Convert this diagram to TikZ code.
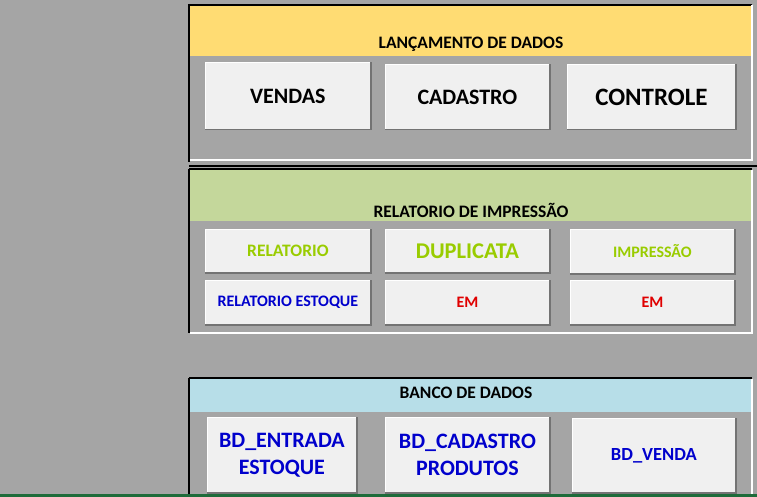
\documentclass[tikz,border=0pt]{standalone}
\usepackage{fontspec}
\setmainfont{Carlito}
\definecolor{bg}{HTML}{A5A5A5}
\definecolor{yel}{HTML}{FFDC73}
\definecolor{grn}{HTML}{C4D79B}
\definecolor{blu}{HTML}{B7DEE8}
\definecolor{btn}{HTML}{F0F0F0}
\definecolor{lime}{HTML}{99CC00}
\definecolor{dblue}{HTML}{0000CC}
\definecolor{dred}{HTML}{E00000}
\definecolor{edge}{HTML}{1E6B3A}
\tikzset{x=1pt,y=-1pt,
 btnbox/.style={fill=btn,draw=white,line width=0.8pt,inner sep=0pt,align=center},
 hdr/.style={font=\bfseries\fontsize{17.5}{20}\selectfont},
 sh/.style={draw=black!55,line width=1.4pt}}
\newcommand{\btn}[8]{% name x1 y1 x2 y2 color size text
 \node[btnbox,text=#6,font=\bfseries\fontsize{#7}{27}\selectfont,minimum width={#4-#2},minimum height={#5-#3},anchor=north west] (#1) at (#2,#3) {#8};
 \draw[sh] (#1.south west)--(#1.south east)--(#1.north east);}
\begin{document}
\begin{tikzpicture}
\fill[bg] (0,0) rectangle (757,497);
\useasboundingbox (0,0) rectangle (757,497);
% panel 1
\fill[yel] (190,5) rectangle (752,56);
\draw[black,line width=1.5pt] (189,5)--(752,5);
\draw[black,line width=1.5pt] (189,4)--(189,162);
\draw[white,line width=1.2pt] (752,5)--(752,160)--(190,160);
\draw[black,line width=1.5pt] (189,166)--(757,166);
\node[hdr] (h1) at (471,44) {LANÇAMENTO DE DADOS};
\btn{b1}{205}{62}{370}{129}{black}{22}{VENDAS}
\btn{b2}{385}{64}{549}{129}{black}{22}{CADASTRO}
\btn{b3}{567}{64}{735}{129}{black}{25}{CONTROLE}
% panel 2
\fill[grn] (190,170) rectangle (752,221);
\draw[black,line width=1.5pt] (189,169)--(752,169);
\draw[black,line width=1.5pt] (189,169)--(189,333);
\draw[white,line width=1.2pt] (752,170)--(752,333)--(190,333);
\node[hdr] (h2) at (471,210) {RELATORIO DE IMPRESSÃO};
\btn{c1}{205}{229}{370}{272}{lime}{17.5}{RELATORIO}
\btn{c2}{385}{229}{549}{272}{lime}{22.5}{DUPLICATA}
\btn{c3}{570}{229}{734}{273}{lime}{16}{IMPRESSÃO}
\btn{d1}{205}{280}{370}{324}{dblue}{16}{RELATORIO ESTOQUE}
\btn{d2}{385}{280}{549}{324}{dred}{16}{EM}
\btn{d3}{570}{280}{734}{324}{dred}{16}{EM}
% panel 3
\fill[blu] (190,379) rectangle (752,412);
\draw[black,line width=1.5pt] (189,378)--(752,378);
\draw[black,line width=1.5pt] (189,378)--(189,497);
\draw[white,line width=1.2pt] (752,379)--(752,497);
\node[hdr] (h3) at (466,393) {BANCO DE DADOS};
\btn{e1}{207}{417}{356}{492}{dblue}{22}{BD\_ENTRADA\\ESTOQUE}
\btn{e2}{385}{417}{549}{492}{dblue}{22}{BD\_CADASTRO\\PRODUTOS}
\btn{e3}{572}{418}{735}{492}{dblue}{18.5}{BD\_VENDA}
\fill[edge] (0,494) rectangle (757,497);
\end{tikzpicture}
\end{document}
